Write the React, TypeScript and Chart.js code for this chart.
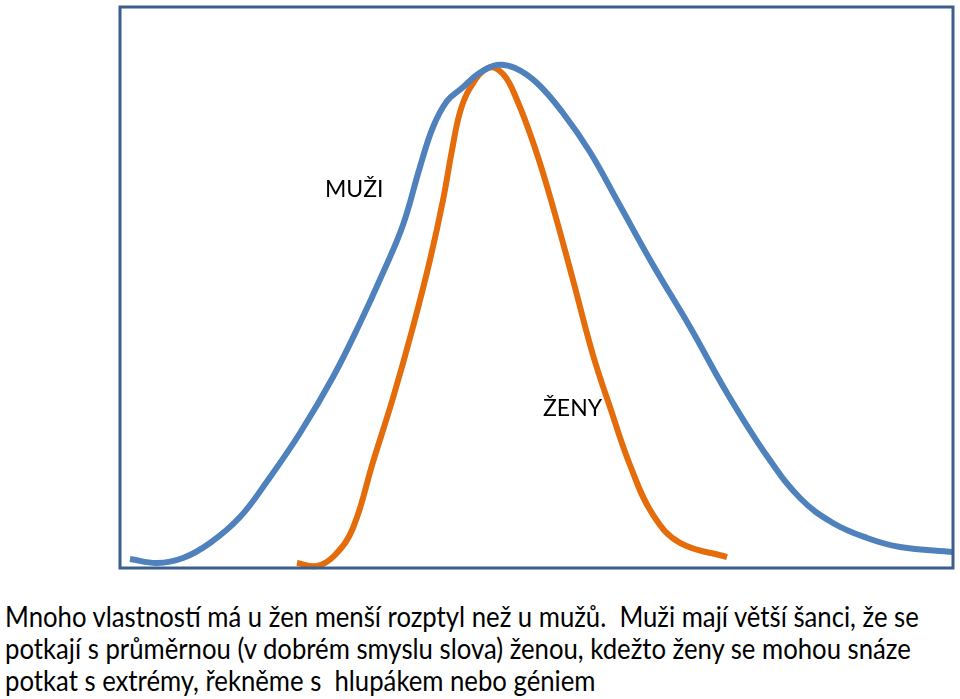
import React, { useEffect, useRef } from "react";
import { Chart, registerables } from "chart.js";

Chart.register(...registerables);

// Relative trait value (x) and relative frequency (y)
const muziX = [1.2, 4.44, 7.56, 10.8, 14.41, 17.77, 21.61, 25.57, 28.81, 31.45, 33.97, 36.01, 37.58, 39.26, 41.06, 42.98, 45.26, 47.42, 50.06, 53.18, 56.42, 59.78, 63.99, 68.43, 72.87, 77.67, 81.63, 85.59, 89.68, 93.64, 100];
const muziY = [1.6, 0.89, 1.78, 4.46, 9.09, 15.69, 24.06, 34.05, 43.67, 52.23, 61.14, 71.48, 78.61, 83.24, 85.56, 88.06, 89.66, 89.13, 86.45, 81.11, 74.15, 65.24, 54.01, 42.96, 31.19, 19.96, 12.48, 8.02, 5.35, 3.74, 2.85];

const zenyX = [21.25, 23.65, 25.81, 27.97, 30.37, 32.77, 35.17, 37.21, 38.78, 39.86, 40.82, 42.02, 44.18, 45.98, 47.66, 49.82, 51.74, 54.38, 56.78, 58.82, 61.22, 63.99, 67.23, 72.87];
const zenyY = [0.89, 0.36, 2.32, 7.13, 18.89, 30.3, 42.96, 54.9, 65.6, 74.51, 81.28, 85.56, 89.13, 88.06, 83.42, 74.87, 65.6, 51.34, 37.97, 28.7, 18.36, 9.45, 4.46, 1.96];

const seriesLabels = ["MUŽI", "ŽENY"];
const captionLines = [
  "Mnoho vlastností má u žen menší rozptyl než u mužů.  Muži mají větší šanci, že se",
  "potkají s průměrnou (v dobrém smyslu slova) ženou, kdežto ženy se mohou snáze",
  "potkat s extrémy, řekněme s  hlupákem nebo géniem",
];

const FONT = "Lato, 'Open Sans', sans-serif";
const CAPTION_SIZE = 29;
const CAPTION_WIDTH = 915;

function captionScale(): number {
  try {
    const c = document.createElement("canvas").getContext("2d");
    if (!c) return 0.88;
    c.font = `${CAPTION_SIZE}px ${FONT}`;
    const w = c.measureText(captionLines[0]).width;
    return w > 0 ? CAPTION_WIDTH / w : 0.88;
  } catch (e) {
    return 0.88;
  }
}

const boxPlugin = {
  id: "boxBorder",
  afterDraw(chart: any) {
    const { ctx, chartArea } = chart;
    ctx.save();
    ctx.strokeStyle = "#3b5f8c";
    ctx.lineWidth = 3;
    ctx.strokeRect(chartArea.left, chartArea.top, chartArea.right - chartArea.left, chartArea.bottom - chartArea.top);
    ctx.restore();
  },
};

export default function App() {
  const ref = useRef<HTMLCanvasElement | null>(null);
  const scale = captionScale();
  useEffect(() => {
    if (!ref.current) return;
    const chart = new Chart(ref.current, {
      type: "line",
      data: {
        datasets: [
          {
            label: seriesLabels[0],
            data: muziX.map((x, i) => ({ x, y: muziY[i] })),
            borderColor: "#4f81bd",
            borderWidth: 6,
            pointRadius: 0,
            tension: 0.4,
            fill: false,
            borderCapStyle: "butt",
          },
          {
            label: seriesLabels[1],
            data: zenyX.map((x, i) => ({ x, y: zenyY[i] })),
            borderColor: "#e46c0a",
            borderWidth: 6,
            pointRadius: 0,
            tension: 0.4,
            fill: false,
            borderCapStyle: "butt",
          },
        ],
      },
      options: {
        animation: false,
        responsive: false,
        maintainAspectRatio: false,
        clip: false as any,
        layout: { padding: { left: 120, right: 7, top: 7, bottom: 12 } },
        scales: {
          x: { type: "linear", min: 0, max: 100, display: false },
          y: { type: "linear", min: 0, max: 100, display: false },
        },
        plugins: { legend: { display: false }, tooltip: { enabled: false } },
      },
      plugins: [boxPlugin],
    });
    return () => chart.destroy();
  }, []);

  return (
    <div style={{ position: "absolute", left: 0, top: 0, width: 960, height: 699, background: "#fff", overflow: "hidden", fontFamily: FONT, color: "#000" }}>
      <canvas ref={ref} width={960} height={580} style={{ position: "absolute", left: 0, top: 0, width: 960, height: 580 }} />
      <div style={{ position: "absolute", left: 325, top: 174, fontSize: 23, lineHeight: "28px", whiteSpace: "nowrap" }}>{seriesLabels[0]}</div>
      <div style={{ position: "absolute", left: 543, top: 393, fontSize: 23, lineHeight: "28px", whiteSpace: "nowrap" }}>{seriesLabels[1]}</div>
      {captionLines.map((t, i) => (
        <div
          key={i}
          style={{
            position: "absolute",
            left: 5,
            top: 600 + i * 32,
            fontSize: CAPTION_SIZE,
            lineHeight: "32px",
            whiteSpace: "pre",
            transform: `scaleX(${scale})`,
            transformOrigin: "0 0",
          }}
        >
          {t}
        </div>
      ))}
    </div>
  );
}
